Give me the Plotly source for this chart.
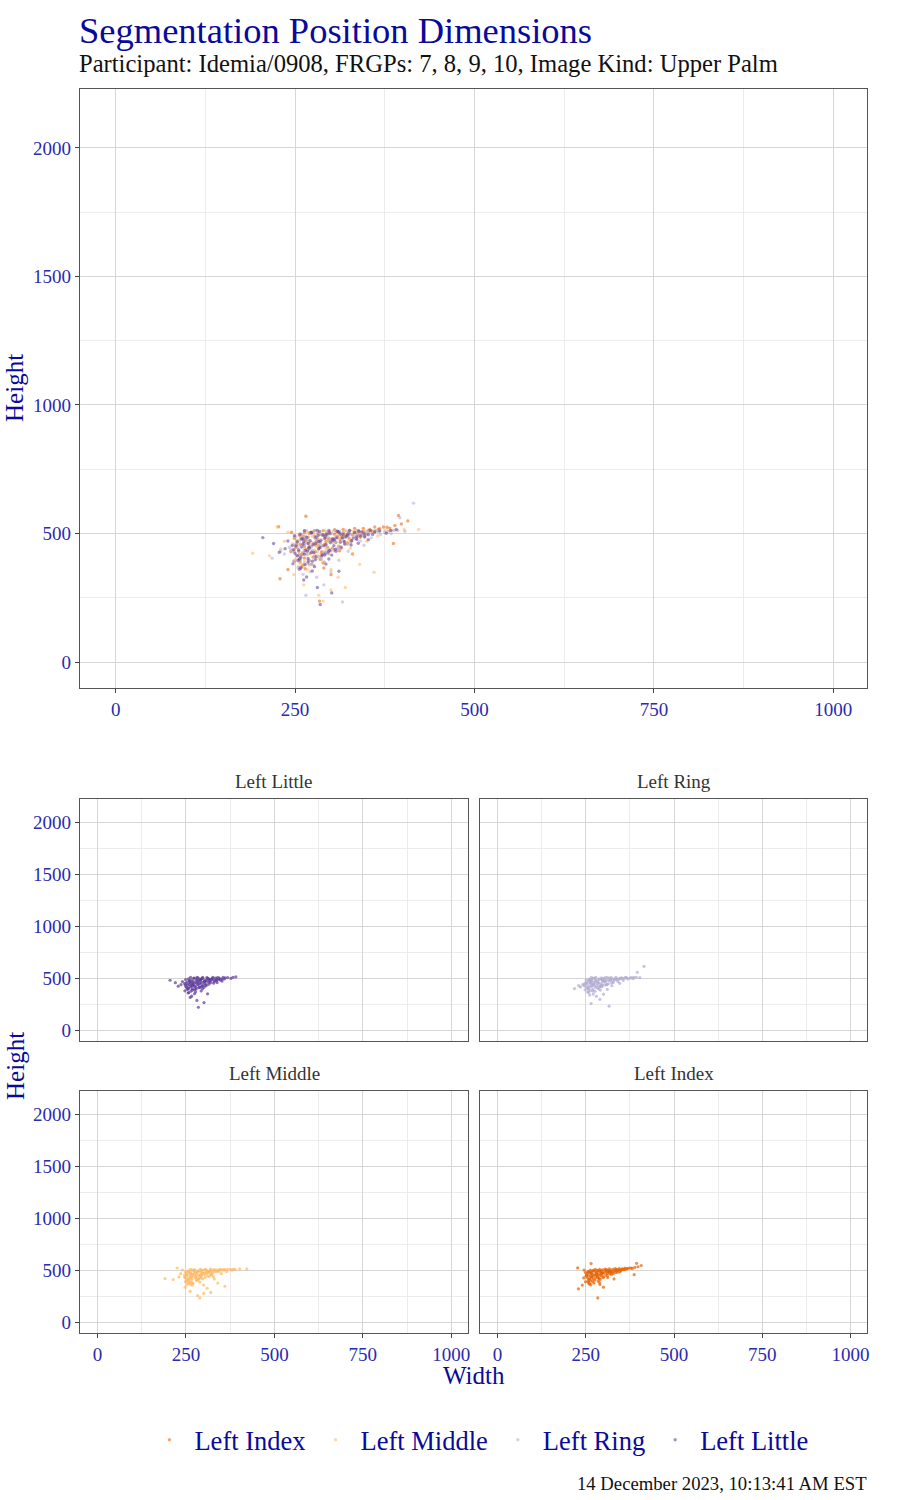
import plotly.graph_objects as go

# ---------------- data ----------------
fingers = ["Left Index", "Left Middle", "Left Ring", "Left Little"]
colors = {"Left Index": "#E66101", "Left Middle": "#FDB863",
          "Left Ring": "#B2ABD2", "Left Little": "#5E3C99"}

index_w = [263, 277, 289, 305, 317, 333, 345, 361, 373, 389,
           256, 270, 282, 298, 310, 326, 338, 354, 366, 382,
           249, 261, 277, 289, 305, 317, 333, 345, 361, 253,
           265, 281, 293, 309, 321, 337, 349, 257, 269, 285,
           297, 313, 325, 341, 251, 263, 279, 291, 307, 319,
           255, 267, 283, 295, 311, 259, 271, 287, 299, 263,
           275, 291, 257, 269, 285, 261, 273, 264, 289, 227,
           265, 394, 407, 284, 229, 387, 240, 300, 330, 245,
           252, 258, 266, 273, 280, 287, 294, 301, 308, 315,
           323, 330, 339, 352, 368, 378, 398, 256, 264, 271,
           278, 286, 293, 302, 316, 328, 347, 357, 249, 261,
           276, 283, 297, 312, 322, 335, 259, 268, 244, 290]
index_h = [504, 511, 511, 515, 516, 520, 520, 525, 525, 531,
           493, 500, 501, 507, 507, 512, 512, 516, 517, 521,
           481, 488, 490, 496, 497, 502, 504, 508, 509, 471,
           473, 480, 483, 489, 491, 496, 498, 457, 463, 466,
           473, 476, 482, 485, 446, 448, 455, 458, 465, 468,
           431, 438, 440, 447, 451, 419, 422, 429, 432, 405,
           408, 415, 389, 396, 399, 377, 380, 363, 385, 526,
           567, 570, 549, 237, 324, 461, 360, 340, 420, 505,
           455, 483, 438, 502, 470, 423, 500, 479, 507, 489,
           463, 496, 505, 511, 519, 524, 537, 400, 476, 450,
           429, 497, 470, 443, 486, 474, 490, 509, 392, 420,
           459, 453, 480, 433, 496, 480, 371, 486, 429, 366]

middle_w = [263, 275, 291, 303, 319, 331, 347, 359, 375, 389,
            256, 268, 284, 296, 312, 324, 340, 352, 249, 261,
            277, 290, 306, 319, 335, 253, 265, 282, 295, 312,
            325, 246, 260, 273, 290, 303, 320, 251, 263, 280,
            293, 310, 248, 260, 277, 290, 255, 267, 284, 297,
            251, 263, 280, 257, 270, 254, 267, 289, 191, 214,
            235, 230, 248, 262, 289, 300, 320, 360, 402, 422,
            283, 310, 340, 330, 350, 365, 380, 240, 225, 300,
            252, 259, 266, 272, 279, 286, 293, 299, 307, 314,
            322, 329, 337, 345, 257, 264, 271, 278, 285, 301,
            315, 249, 256, 269, 288, 296, 304, 318, 343, 357,
            262, 274, 281, 292, 309, 327, 367, 384, 246, 268]
middle_h = [511, 508, 513, 510, 514, 509, 512, 510, 513, 512,
            498, 504, 496, 503, 495, 505, 499, 506, 487, 491,
            483, 493, 486, 494, 488, 474, 468, 478, 470, 480,
            473, 460, 454, 464, 456, 465, 459, 446, 439, 449,
            441, 451, 431, 425, 435, 428, 415, 417, 412, 420,
            400, 394, 403, 384, 377, 367, 359, 389, 423, 413,
            470, 440, 340, 300, 237, 280, 290, 349, 516, 516,
            260, 330, 380, 420, 470, 490, 505, 505, 525, 360,
            457, 482, 437, 504, 466, 422, 499, 476, 510, 487,
            461, 494, 505, 508, 401, 471, 449, 428, 496, 468,
            442, 393, 419, 462, 452, 479, 433, 485, 490, 507,
            372, 489, 415, 456, 483, 443, 511, 512, 438, 382]

ring_w = [266, 278, 294, 306, 322, 335, 351, 363, 379, 393,
          403, 259, 271, 288, 301, 318, 330, 347, 360, 251,
          265, 278, 295, 308, 325, 338, 256, 268, 285, 298,
          315, 328, 249, 263, 276, 293, 306, 323, 254, 267,
          284, 297, 314, 247, 261, 274, 291, 304, 253, 266,
          283, 296, 257, 270, 287, 263, 276, 258, 291, 218,
          235, 242, 265, 280, 300, 316, 290, 415, 396, 341,
          356, 369, 384, 271, 311, 324, 346, 230, 386, 261,
          252, 260, 269, 275, 283, 289, 299, 304, 312, 319,
          327, 343, 354, 258, 266, 273, 281, 287, 302, 309,
          248, 256, 263, 271, 279, 294, 320, 333, 348, 366,
          255, 262, 277, 286, 297, 310, 337, 375, 244, 270]
ring_h = [511, 512, 507, 512, 510, 512, 508, 512, 510, 512,
          509, 496, 502, 493, 500, 504, 495, 502, 505, 487,
          490, 482, 492, 487, 494, 489, 471, 477, 467, 475,
          480, 470, 458, 456, 463, 452, 467, 457, 445, 438,
          447, 440, 450, 429, 426, 434, 427, 437, 412, 419,
          409, 422, 397, 395, 401, 384, 377, 367, 389, 404,
          420, 446, 260, 330, 350, 234, 300, 618, 561, 471,
          483, 496, 499, 351, 396, 431, 454, 432, 512, 341,
          455, 481, 436, 503, 468, 421, 498, 477, 509, 486,
          462, 493, 503, 404, 474, 448, 429, 495, 469, 441,
          392, 418, 461, 451, 478, 432, 484, 489, 500, 507,
          371, 488, 414, 455, 482, 442, 497, 505, 436, 381]

little_w = [263, 284, 297, 311, 326, 339, 355, 368, 383, 391,
            257, 273, 289, 298, 317, 333, 346, 361, 249, 279,
            292, 308, 323, 336, 352, 261, 271, 291, 305, 316,
            336, 253, 268, 283, 293, 313, 329, 246, 259, 275,
            285, 304, 319, 255, 264, 283, 298, 314, 250, 263,
            273, 292, 307, 258, 268, 287, 301, 254, 268, 278,
            264, 277, 256, 274, 293, 240, 236, 228, 205, 220,
            266, 281, 301, 285, 262, 311, 297, 347, 358, 377,
            251, 259, 267, 272, 279, 288, 294, 302, 309, 321,
            328, 341, 256, 262, 270, 276, 282, 299, 306, 313,
            247, 253, 261, 269, 286, 296, 318, 331, 343, 274,
            258, 266, 279, 290, 303, 248, 325, 338, 352, 281]
little_h = [511, 508, 512, 505, 512, 509, 512, 510, 512, 516,
            497, 503, 494, 501, 496, 504, 498, 506, 491, 486,
            489, 483, 493, 487, 495, 479, 472, 481, 475, 483,
            477, 467, 461, 469, 458, 466, 472, 453, 447, 456,
            446, 453, 459, 436, 434, 441, 435, 445, 422, 420,
            427, 420, 431, 409, 403, 412, 416, 395, 389, 398,
            379, 371, 361, 354, 381, 471, 441, 427, 484, 461,
            331, 290, 269, 224, 319, 353, 401, 486, 496, 501,
            452, 478, 431, 505, 462, 417, 497, 474, 509, 488,
            455, 491, 401, 468, 443, 425, 492, 464, 439, 498,
            382, 414, 458, 447, 474, 428, 470, 482, 506, 392,
            366, 485, 410, 452, 480, 437, 501, 462, 476, 512]

data = {"Left Index": (index_w, index_h), "Left Middle": (middle_w, middle_h),
        "Left Ring": (ring_w, ring_h), "Left Little": (little_w, little_h)}

x_ticks = [0, 250, 500, 750, 1000]
y_ticks = [0, 500, 1000, 1500, 2000]

# ---------------- figure ----------------
W, H = 900, 1500
FONT = "Liberation Serif"
TICK_COL = "#2b2bb0"
TITLE_COL = "#0a0a9a"


def fx(px):
    return px / W


def fy(py):
    return 1 - py / H


fig = go.Figure()

facet_axes = {"Left Little": 2, "Left Ring": 3, "Left Middle": 4, "Left Index": 5}
domains = {
    1: ([fx(80), fx(869)], [fy(688), fy(89)]),
    2: ([fx(80), fx(469)], [fy(1041), fy(799)]),
    3: ([fx(481), fx(869)], [fy(1041), fy(799)]),
    4: ([fx(80), fx(469)], [fy(1333), fy(1091)]),
    5: ([fx(481), fx(869)], [fy(1333), fy(1091)]),
}

for f in fingers:
    w, h = data[f]
    fig.add_trace(go.Scatter(
        x=w, y=h, mode="markers", name=f, xaxis="x", yaxis="y",
        marker=dict(color=colors[f], size=3.4, opacity=0.55, line=dict(width=0)),
        showlegend=True, hoverinfo="skip"))

for f in fingers:
    w, h = data[f]
    k = facet_axes[f]
    fig.add_trace(go.Scatter(
        x=w, y=h, mode="markers", name=f, xaxis=f"x{k}", yaxis=f"y{k}",
        marker=dict(color=colors[f], size=3.2, opacity=0.7, line=dict(width=0)),
        showlegend=False, hoverinfo="skip"))

axis_common = dict(
    showline=True, linecolor="#555555", linewidth=1, mirror=True,
    showgrid=True, gridcolor="#d6d6d6", gridwidth=1.3, zeroline=False,
    ticklen=4, tickcolor="#444444", tickwidth=1,
    tickfont=dict(family=FONT, size=19, color=TICK_COL),
)

layout_axes = {}
for k, (dx, dy) in domains.items():
    suffix = "" if k == 1 else str(k)
    show_x = k in (1, 4, 5)
    show_y = k in (1, 2, 4)
    layout_axes[f"xaxis{suffix}"] = dict(
        axis_common, domain=dx, range=[-50, 1047], tickvals=x_ticks,
        showticklabels=show_x, ticks="outside" if show_x else "",
        minor=dict(tickvals=[125, 375, 625, 875], showgrid=True,
                   gridcolor="#ececec", gridwidth=1, ticks=""),
        anchor="y" if k == 1 else f"y{k}")
    layout_axes[f"yaxis{suffix}"] = dict(
        axis_common, domain=dy, range=[-101, 2229], tickvals=y_ticks,
        showticklabels=show_y, ticks="outside" if show_y else "",
        minor=dict(tickvals=[250, 750, 1250, 1750], showgrid=True,
                   gridcolor="#ececec", gridwidth=1, ticks=""),
        anchor="x" if k == 1 else f"x{k}")


def ann(text, px, py, size, color, xanchor="center", angle=0):
    return dict(text=text, x=fx(px), y=fy(py), xref="paper", yref="paper",
                xanchor=xanchor, yanchor="middle", showarrow=False,
                textangle=angle, font=dict(family=FONT, size=size, color=color))


annotations = [
    ann("Segmentation Position Dimensions", 77, 30, 36.5, TITLE_COL, "left"),
    ann("Participant: Idemia/0908, FRGPs: 7, 8, 9, 10, Image Kind: Upper Palm",
        77, 64, 24.6, "#111111", "left"),
    ann("Height", 15, 388, 25, TITLE_COL, angle=-90),
    ann("Height", 15, 1066, 25, TITLE_COL, angle=-90),
    ann("Width", 475, 1375, 25, TITLE_COL),
    ann("14 December 2023, 10:13:41 AM EST", 871, 1483, 18.7, "#111111", "right"),
]
strip_pos = {"Left Little": (275, 781), "Left Ring": (675, 781),
             "Left Middle": (275, 1073), "Left Index": (675, 1073)}
for f, (px, py) in strip_pos.items():
    annotations.append(ann(f, px, py, 19, "#333333"))

fig.update_layout(
    width=W, height=H, margin=dict(l=0, r=0, t=0, b=0),
    paper_bgcolor="white", plot_bgcolor="white",
    annotations=annotations,
    legend=dict(orientation="h", x=fx(480), xanchor="center", y=fy(1440),
                yanchor="middle", font=dict(family=FONT, size=26.5, color=TITLE_COL),
                itemsizing="trace", bgcolor="rgba(0,0,0,0)",
                itemwidth=40, tracegroupgap=0),
    **layout_axes,
)

fig.write_html("out.html")
